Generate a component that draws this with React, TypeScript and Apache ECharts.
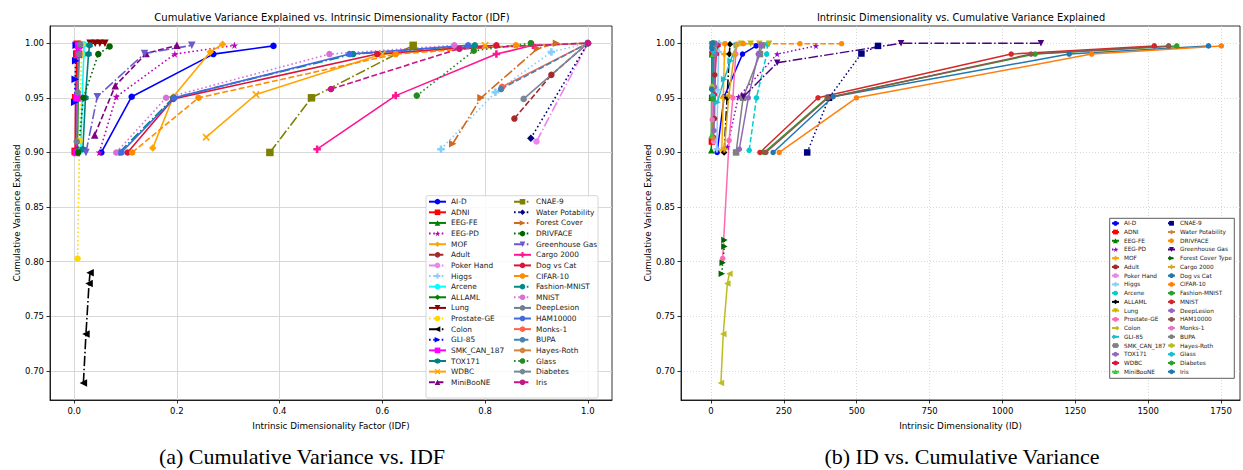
import React, { useEffect, useRef } from 'react';
import * as echarts from 'echarts';

// ---------- names (legend order) ----------
const namesA = [
  'AI-D', 'ADNI', 'EEG-FE', 'EEG-PD', 'MOF', 'Adult', 'Poker Hand', 'Higgs', 'Arcene', 'ALLAML', 'Lung',
  'Prostate-GE', 'Colon', 'GLI-85', 'SMK_CAN_187', 'TOX171', 'WDBC', 'MiniBooNE',
  'CNAE-9', 'Water Potability', 'Forest Cover', 'DRIVFACE', 'Greenhouse Gas', 'Cargo 2000', 'Dog vs Cat',
  'CIFAR-10', 'Fashion-MNIST', 'MNIST', 'DeepLesion', 'HAM10000', 'Monks-1', 'BUPA', 'Hayes-Roth', 'Glass',
  'Diabetes', 'Iris',
];
const namesB = [
  'AI-D', 'ADNI', 'EEG-FE', 'EEG-PD', 'MOF', 'Adult', 'Poker Hand', 'Higgs', 'Arcene', 'ALLAML', 'Lung',
  'Prostate-GE', 'Colon', 'GLI-85', 'SMK_CAN_187', 'TOX171', 'WDBC', 'MiniBooNE',
  'CNAE-9', 'Water Potability', 'DRIVFACE', 'Greenhouse Gas', 'Forest Cover Type', 'Cargo 2000', 'Dog vs Cat',
  'CIFAR-10', 'Fashion-MNIST', 'MNIST', 'DeepLesion', 'HAM10000', 'Monks-1', 'BUPA', 'Hayes-Roth', 'Glass',
  'Diabetes', 'Iris',
];

// ---------- chart (a): [IDF, cumulative variance] ----------
const idfAID = [[0.053, 0.9], [0.112, 0.951], [0.271, 0.99], [0.388, 0.9975]];
const idfADNI = [[0.002, 0.901], [0.003, 0.95], [0.005, 0.99], [0.006, 0.999]];
const idfEEGFE = [[0.004, 0.902], [0.006, 0.951], [0.009, 0.99], [0.011, 0.999]];
const idfEEGPD = [[0.049, 0.9], [0.082, 0.951], [0.196, 0.99], [0.312, 0.998]];
const idfMOF = [[0.153, 0.904], [0.193, 0.951], [0.265, 0.992], [0.289, 0.999]];
const idfAdult = [[0.857, 0.931], [0.929, 0.971], [1.0, 1.0]];
const idfPoker = [[0.9, 0.91], [1.0, 1.0]];
const idfHiggs = [[0.714, 0.903], [0.82, 0.955], [0.929, 0.992], [1.0, 1.0]];
const idfArcene = [[0.013, 0.902], [0.0156, 0.95], [0.019, 0.99], [0.0194, 0.999]];
const idfALLAML = [[0.0063, 0.9], [0.0077, 0.95], [0.0088, 0.99], [0.0091, 0.999]];
const idfLung = [[0.031, 1.0], [0.041, 1.0], [0.05, 1.0], [0.06, 1.0]];
const idfProstate = [[0.0067, 0.803], [0.0104, 0.911], [0.0126, 0.95], [0.0142, 0.99], [0.0147, 0.999]];
const idfColon = [[0.018, 0.689], [0.023, 0.734], [0.029, 0.78], [0.031, 0.79]];
const idfGLI = [[0.001, 0.946], [0.002, 0.967], [0.003, 0.984], [0.004, 0.998]];
const idfSMK = [[0.0043, 0.9], [0.0055, 0.95], [0.0084, 0.99], [0.0088, 0.998]];
const idfTOX = [[0.017, 0.903], [0.022, 0.95], [0.028, 0.99], [0.03, 0.998]];
const idfWDBC = [[0.257, 0.914], [0.354, 0.953], [0.6, 0.99], [0.8, 0.998]];
const idfMiniBooNE = [[0.04, 0.916], [0.08, 0.961], [0.14, 0.9905], [0.2, 0.998]];
const idfCNAE = [[0.381, 0.9], [0.462, 0.95], [0.66, 0.998]];
const idfWater = [[0.889, 0.913], [1.0, 1.0]];
const idfForest = [[0.737, 0.908], [0.792, 0.95], [0.902, 0.995], [0.939, 1.0]];
const idfDRIV = [[0.008, 0.9], [0.018, 0.95], [0.047, 0.99], [0.069, 0.997]];
const idfGreen = [[0.023, 0.9], [0.045, 0.951], [0.137, 0.9905], [0.229, 0.998]];
const idfCargo = [[0.473, 0.903], [0.626, 0.952], [0.822, 0.99], [0.893, 0.998]];
const idfDog = [[0.104, 0.9], [0.193, 0.949], [0.59, 0.99], [0.822, 0.998]];
const idfCIFAR = [[0.113, 0.9], [0.242, 0.95], [0.626, 0.99], [0.86, 0.998]];
const idfFashion = [[0.088, 0.9], [0.193, 0.95], [0.543, 0.99], [0.78, 0.998]];
const idfMNIST = [[0.082, 0.9], [0.179, 0.95], [0.497, 0.99], [0.74, 0.998]];
const idfDeep = [[0.005, 0.91], [0.007, 0.955], [0.01, 0.99], [0.012, 0.999]];
const idfHAM = [[0.092, 0.9], [0.195, 0.95], [0.536, 0.99], [0.767, 0.998]];
const idfMonks = [[0.833, 0.96], [1.0, 1.0]];
const idfBUPA = [[0.831, 0.958], [1.0, 1.0]];
const idfHayes = [[0.75, 0.995], [1.0, 1.0]];
const idfGlass = [[0.667, 0.952], [0.778, 0.993], [0.889, 1.0]];
const idfDiabetes = [[0.875, 0.949], [1.0, 1.0]];
const idfIris = [[0.5, 0.958], [0.75, 0.995], [1.0, 1.0]];

const dataA = [
  idfAID, idfADNI, idfEEGFE, idfEEGPD, idfMOF, idfAdult, idfPoker, idfHiggs, idfArcene, idfALLAML, idfLung,
  idfProstate, idfColon, idfGLI, idfSMK, idfTOX, idfWDBC, idfMiniBooNE,
  idfCNAE, idfWater, idfForest, idfDRIV, idfGreen, idfCargo, idfDog, idfCIFAR, idfFashion, idfMNIST, idfDeep,
  idfHAM, idfMonks, idfBUPA, idfHayes, idfGlass, idfDiabetes, idfIris,
];

// ---------- chart (b): [ID, cumulative variance] ----------
const idAID = [[21, 0.9], [45, 0.951], [108, 0.99], [155, 0.9975]];
const idADNI = [[3, 0.91], [4, 0.95], [5, 0.99], [6, 0.999]];
const idEEGFE = [[1, 0.902], [2, 0.95], [4, 0.99], [5, 0.999]];
const idEEGPD = [[56, 0.905], [94, 0.951], [227, 0.99], [360, 0.9975]];
const idMOF = [[37, 0.902], [42, 0.95], [46, 0.99], [48, 0.999]];
const idAdult = [[12, 0.931], [13, 0.971], [14, 1.0]];
const idPoker = [[9, 0.91], [10, 1.0]];
const idHiggs = [[20, 0.903], [23, 0.957], [26, 0.992], [28, 1.0]];
const idArcene = [[131, 0.902], [156, 0.95], [191, 0.99], [194, 0.999]];
const idALLAML = [[45, 0.9], [55, 0.95], [63, 0.99], [65, 0.999]];
const idLung = [[103, 0.9995], [136, 0.9995], [166, 0.9995], [199, 0.9995]];
const idProstate = [[40, 0.803], [62, 0.911], [75, 0.95], [85, 0.99], [88, 0.999]];
const idColon = [[34, 0.689], [42, 0.734], [56, 0.78], [63, 0.789]];
const idGLI = [[22, 0.946], [45, 0.967], [67, 0.984], [89, 0.998]];
const idSMK = [[86, 0.9], [110, 0.95], [168, 0.99], [175, 0.998]];
const idTOX = [[97, 0.903], [128, 0.95], [162, 0.99], [170, 0.998]];
const idWDBC = [[8, 0.914], [11, 0.953], [18, 0.99], [24, 0.998]];
const idMiniBooNE = [[2, 0.916], [4, 0.961], [7, 0.99], [10, 0.998]];
const idCNAE = [[330, 0.9], [405, 0.95], [516, 0.9905], [573, 0.9975]];
const idWater = [[8, 0.913], [9, 1.0]];
const idDRIV = [[48, 0.9995], [111, 0.9995], [305, 0.9995], [448, 0.9995]];
const idGreen = [[111, 0.951], [227, 0.982], [652, 1.0], [1132, 1.0]];
const idForest = [[37, 0.789], [40, 0.799], [46, 0.814], [46, 0.82]];
const idCargo = [[46, 0.903], [61, 0.952], [80, 0.99], [87, 0.998]];
const idDog = [[213, 0.9], [419, 0.951], [1229, 0.99], [1707, 0.9975]];
const idCIFAR = [[234, 0.9], [499, 0.95], [1306, 0.99], [1751, 0.9975]];
const idFashion = [[182, 0.9], [398, 0.95], [1112, 0.99], [1598, 0.9975]];
const idMNIST = [[168, 0.9], [367, 0.95], [1030, 0.99], [1521, 0.9975]];
const idDeep = [[10, 0.92], [12, 0.96], [14, 0.99], [16, 0.999]];
const idHAM = [[188, 0.9], [402, 0.95], [1098, 0.99], [1570, 0.9975]];
const idMonks = [[4, 0.93], [6, 1.0]];
const idBUPA = [[5, 0.958], [6, 1.0]];
const idHayes = [[3, 0.96], [4, 1.0]];
const idGlass = [[6, 0.952], [7, 0.993], [8, 1.0]];
const idDiabetes = [[7, 0.949], [8, 1.0]];
const idIris = [[2, 0.958], [3, 0.995], [4, 1.0]];

const dataB = [
  idAID, idADNI, idEEGFE, idEEGPD, idMOF, idAdult, idPoker, idHiggs, idArcene, idALLAML, idLung,
  idProstate, idColon, idGLI, idSMK, idTOX, idWDBC, idMiniBooNE,
  idCNAE, idWater, idDRIV, idGreen, idForest, idCargo, idDog, idCIFAR, idFashion, idMNIST, idDeep,
  idHAM, idMonks, idBUPA, idHayes, idGlass, idDiabetes, idIris,
];

// ---------- ticks ----------
const ticksIDF = [0, 0.2, 0.4, 0.6, 0.8, 1.0];
const ticksID = [0, 250, 500, 750, 1000, 1250, 1500, 1750];
const ticksCV = [0.7, 0.75, 0.8, 0.85, 0.9, 0.95, 1.0];

// ---------- styles: [color, linestyle, marker] ----------
const stylesA: string[][] = [
  ['#0000ff', '-', 'o'], ['#ff0000', '-', 's'], ['#008000', '-', '^'], ['#bf00bf', ':', '*'],
  ['#ffa500', '-', 'd'], ['#a52a2a', '--', 'o'], ['#ee82ee', '-.', 'o'], ['#87cefa', ':', 'P'],
  ['#00ffff', '-', 'o'], ['#008000', '-', 'd'], ['#8b0000', '-', 'v'], ['#ffd700', ':', 'o'],
  ['#000000', '-.', '<'], ['#0000ff', ':', '>'], ['#ff00ff', '-', 's'], ['#008080', '-', 'h'],
  ['#ffa500', '-', 'X'], ['#800080', '--', '^'],
  ['#808000', '-.', 's'], ['#000080', ':', 'd'], ['#d2691e', '-.', '>'], ['#006400', ':', 'o'],
  ['#6a5acd', '-.', 'v'], ['#ff1493', '-', 'P'], ['#dc143c', '-', 'o'], ['#ff8c00', '--', 'o'],
  ['#008b8b', '-.', 'o'], ['#da70d6', ':', 'o'], ['#708090', '-', 'o'], ['#4169e1', '-', 'o'],
  ['#ff6347', '-', 'o'], ['#4682b4', '--', 'o'], ['#cd853f', '-', 'o'], ['#228b22', ':', 'o'],
  ['#778899', '-', 'o'], ['#c71585', '--', 'o'],
];
const stylesB: string[][] = [
  ['#0000ff', '-', 'o'], ['#ff0000', '-', 's'], ['#008000', '-', '^'], ['#9400d3', ':', '*'],
  ['#ffa500', '-', 'P'], ['#a52a2a', '-', 'o'], ['#ee82ee', '-', 'o'], ['#87cefa', '-', 'P'],
  ['#00ced1', '--', 'o'], ['#000000', '-.', 'd'], ['#c8b400', '-', 'v'], ['#ff69b4', '-', 'o'],
  ['#bcbd22', '-', '<'], ['#17becf', '-', '>'], ['#808080', '-', 's'], ['#9467bd', '-', 'o'],
  ['#dc143c', '-', 'h'], ['#32cd32', '-', '^'],
  ['#000080', ':', 's'], ['#cd853f', '-', 'd'], ['#ff8c00', '--', 'o'], ['#4b0082', '-.', 'v'],
  ['#006400', ':', '>'], ['#daa520', '-', 'P'], ['#1f77b4', '-', 'o'], ['#ff7f0e', '-', 'o'],
  ['#2ca02c', '-', 'o'], ['#d62728', '-', 'o'], ['#9467bd', '-', 'o'], ['#8c564b', '-', 'o'],
  ['#e377c2', '-', 'o'], ['#7f7f7f', '-', 'o'], ['#bcbd22', '-', 'o'], ['#17becf', '-', 'o'],
  ['#2ca02c', '-', 'o'], ['#1f77b4', '-', 'o'],
];

const SYM: Record<string, string> = {
  o: 'circle',
  s: 'rect',
  '^': 'triangle',
  d: 'diamond',
  v: 'path://M0,0L100,0L50,87Z',
  '<': 'path://M0,50L87,0L87,100Z',
  '>': 'path://M0,0L87,50L0,100Z',
  '*': 'path://M50,0L61.2,34.6L97.6,34.5L68.1,55.9L79.4,90.5L50,69L20.6,90.5L31.9,55.9L2.4,34.5L38.8,34.6Z',
  P: 'path://M33,0H67V33H100V67H67V100H33V67H0V33H33Z',
  X: 'path://M15,0L50,35L85,0L100,15L65,50L100,85L85,100L50,65L15,100L0,85L35,50L0,15Z',
  h: 'path://M50,0L93,25L93,75L50,100L7,75L7,25Z',
};

function dashOf(ls: string, lw: number): any {
  if (ls === '--') return [3.7 * lw, 1.6 * lw];
  if (ls === ':') return [1 * lw, 1.65 * lw];
  if (ls === '-.') return [6.4 * lw, 1.6 * lw, 1 * lw, 1.6 * lw];
  return 'solid';
}

function buildSeries(names: string[], data: number[][][], styles: string[][], g: number, prefix: string, lw: number, ms: number) {
  return names.map((n, i) => {
    const [color, ls, mk] = styles[i];
    return {
      type: 'line',
      name: prefix + n,
      xAxisIndex: g,
      yAxisIndex: g,
      data: data[i],
      symbol: SYM[mk],
      symbolSize: mk === 'o' || mk === 'h' ? ms : ms + 1,
      showSymbol: true,
      silent: true,
      clip: false,
      lineStyle: { color, width: lw, type: dashOf(ls, lw) },
      itemStyle: { color },
      emphasis: { disabled: true },
    };
  });
}

const FONT = 'DejaVu Sans';

function valueAxis(g: number, min: number, max: number, ticks: number[], fmt: (v: number) => string, name: string, nameGap: number, dotted: boolean) {
  return {
    type: 'value',
    gridIndex: g,
    min,
    max,
    name,
    nameLocation: 'middle',
    nameGap,
    nameTextStyle: { fontSize: 8.8, color: '#000', fontFamily: FONT },
    axisLine: { show: true, onZero: false, lineStyle: { color: '#000', width: 0.8 } },
    axisTick: { show: true, length: 3.5, lineStyle: { color: '#000', width: 0.8 }, customValues: ticks },
    axisLabel: { customValues: ticks, formatter: fmt, fontSize: 8.5, color: '#000', fontFamily: FONT, margin: 6 },
    splitLine: {
      show: true,
      lineStyle: dotted ? { color: '#cfcfcf', width: 0.8, type: [1, 2] } : { color: '#d4d4d4', width: 0.9 },
    },
  };
}

function legendCol(names: string[], left: number, top: number, iw: number, ih: number, gap: number, fs: number, prefix: string) {
  return {
    orient: 'vertical',
    left,
    top,
    data: names.map((n) => prefix + n),
    itemWidth: iw,
    itemHeight: ih,
    itemGap: gap,
    selectedMode: false,
    padding: 0,
    formatter: (n: string) => n.replace(/^b:/, ''),
    textStyle: { fontSize: fs, lineHeight: ih, color: '#222', fontFamily: FONT },
  };
}

function buildOption() {
  const seriesA = buildSeries(namesA, dataA, stylesA, 0, '', 1.6, 6.5);
  const seriesB = buildSeries(namesB, dataB, stylesB, 1, 'b:', 1.5, 5.5);
  return {
    animation: false,
    backgroundColor: '#fff',
    textStyle: { fontFamily: FONT },
    grid: [
      { left: 50, right: 631, top: 26, bottom: 70, show: true, borderColor: '#000', borderWidth: 0.8 },
      { left: 681, right: 3, top: 26, bottom: 70, show: true, borderColor: '#000', borderWidth: 0.8 },
    ],
    xAxis: [
      valueAxis(0, -0.047, 1.047, ticksIDF, (v) => v.toFixed(1), 'Intrinsic Dimensionality Factor (IDF)', 21, false),
      valueAxis(1, -103, 1815, ticksID, (v) => String(Math.round(v)), 'Intrinsic Dimensionality (ID)', 21, true),
    ],
    yAxis: [
      valueAxis(0, 0.6735, 1.0157, ticksCV, (v) => v.toFixed(2), 'Cumulative Variance Explained', 28, false),
      valueAxis(1, 0.6735, 1.0157, ticksCV, (v) => v.toFixed(2), 'Cumulative Variance Explained', 22, true),
    ],
    legend: [
      legendCol(namesA.slice(0, 18), 428, 198.2, 17, 7, 3.62, 7.4, ''),
      legendCol(namesA.slice(18), 513, 198.2, 17, 7, 3.62, 7.4, ''),
      legendCol(namesB.slice(0, 18), 1111, 220.3, 7, 6, 2.73, 5.8, 'b:'),
      legendCol(namesB.slice(18), 1167, 220.3, 7, 6, 2.73, 5.8, 'b:'),
    ],
    graphic: [
      { type: 'rect', z: 3, shape: { x: 426, y: 195.7, width: 172, height: 202.3, r: 2 }, style: { fill: 'rgba(255,255,255,0.85)', stroke: '#cccccc', lineWidth: 0.8 } },
      { type: 'rect', z: 3, shape: { x: 1109.7, y: 218.3, width: 124.6, height: 160 }, style: { fill: 'rgba(255,255,255,0.9)', stroke: '#333333', lineWidth: 0.8 } },
      { type: 'text', x: 332, y: 17, style: { text: 'Cumulative Variance Explained vs. Intrinsic Dimensionality Factor (IDF)', fontSize: 10, fontFamily: FONT, fill: '#000', align: 'center', verticalAlign: 'middle' } },
      { type: 'text', x: 961, y: 17, style: { text: 'Intrinsic Dimensionality vs. Cumulative Variance Explained', fontSize: 9.8, fontFamily: FONT, fill: '#000', align: 'center', verticalAlign: 'middle' } },
      { type: 'text', x: 302, y: 456, style: { text: '(a) Cumulative Variance vs. IDF', fontSize: 22, fontFamily: 'Liberation Serif', fill: '#000', align: 'center', verticalAlign: 'middle' } },
      { type: 'text', x: 962, y: 456, style: { text: '(b) ID vs. Cumulative Variance', fontSize: 22, fontFamily: 'Liberation Serif', fill: '#000', align: 'center', verticalAlign: 'middle' } },
    ],
    series: [...seriesA, ...seriesB],
  };
}

export default function App() {
  const ref = useRef<HTMLDivElement>(null);
  useEffect(() => {
    const chart = echarts.init(ref.current as HTMLDivElement, null, { renderer: 'svg' });
    chart.setOption(buildOption() as any);
    return () => chart.dispose();
  }, []);
  return (
    <div
      ref={ref}
      style={{ position: 'fixed', left: 0, top: 0, width: 1243, height: 470, background: '#fff' }}
    />
  );
}
